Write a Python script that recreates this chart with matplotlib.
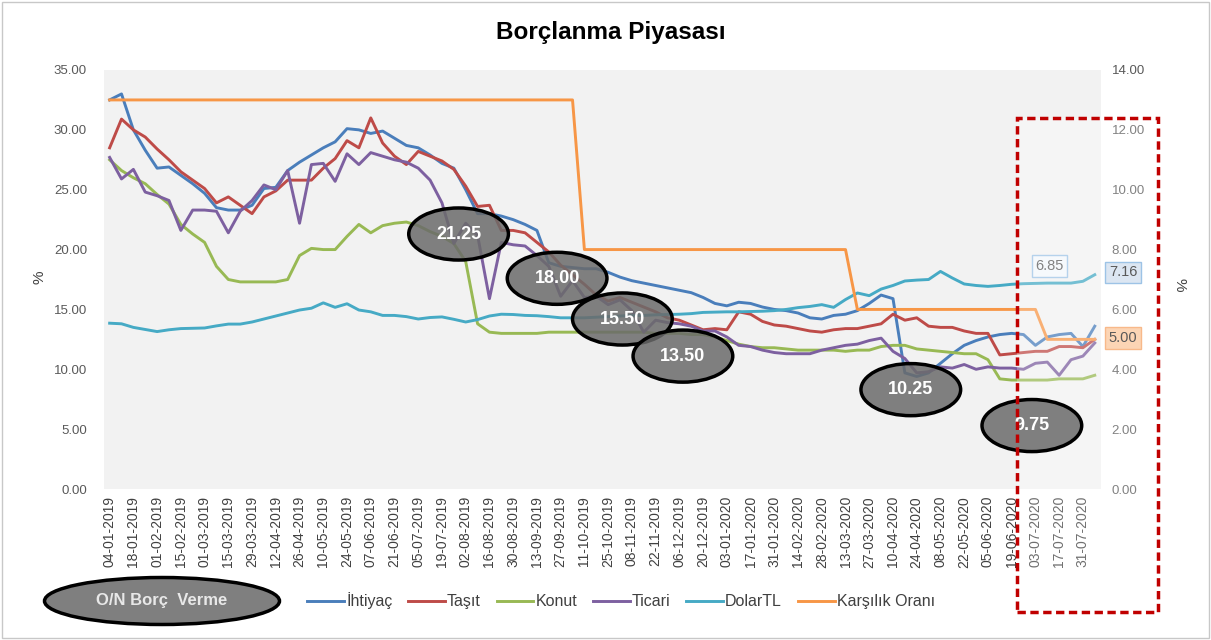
import matplotlib.pyplot as plt
from matplotlib.patches import Ellipse, Rectangle

plt.rcParams['font.family'] = ['Liberation Sans', 'DejaVu Sans']

# x ekseni etiketleri (iki haftada bir)
tick_labels = ['04-01-2019', '18-01-2019', '01-02-2019', '15-02-2019', '01-03-2019', '15-03-2019',
               '29-03-2019', '12-04-2019', '26-04-2019', '10-05-2019', '24-05-2019', '07-06-2019',
               '21-06-2019', '05-07-2019', '19-07-2019', '02-08-2019', '16-08-2019', '30-08-2019',
               '13-09-2019', '27-09-2019', '11-10-2019', '25-10-2019', '08-11-2019', '22-11-2019',
               '06-12-2019', '20-12-2019', '03-01-2020', '17-01-2020', '31-01-2020', '14-02-2020',
               '28-02-2020', '13-03-2020', '27-03-2020', '10-04-2020', '24-04-2020', '08-05-2020',
               '22-05-2020', '05-06-2020', '19-06-2020', '03-07-2020', '17-07-2020', '31-07-2020']

# haftalik seriler (sol eksen, %)
ihtiyac = [32.5, 33.0, 30.0, 28.3, 26.8, 26.9, 26.2, 25.5, 24.7, 23.5,
           23.3, 23.3, 23.7, 25.1, 25.2, 26.6, 27.3, 27.9, 28.5, 29.0,
           30.1, 30.0, 29.7, 29.9, 29.3, 28.7, 28.5, 27.9, 27.2, 26.8,
           25.0, 23.0, 23.0, 22.8, 22.5, 22.1, 21.6, 18.9, 18.6, 18.5,
           18.4, 18.4, 18.1, 17.7, 17.4, 17.2, 17.0, 16.8, 16.6, 16.4,
           16.0, 15.5, 15.3, 15.6, 15.5, 15.2, 15.0, 14.9, 14.7, 14.3,
           14.2, 14.5, 14.6, 14.9, 15.5, 16.2, 15.9, 9.7, 9.4, 9.7,
           10.5, 11.3, 12.0, 12.4, 12.7, 12.9, 13.0, 12.9, 12.0, 12.7,
           12.9, 13.0, 11.9, 13.6]
tasit = [28.5, 30.9, 30.0, 29.4, 28.4, 27.5, 26.5, 25.8, 25.1, 23.9,
         24.4, 23.7, 23.0, 24.4, 24.9, 25.8, 25.8, 25.8, 26.8, 27.6,
         29.1, 28.5, 31.0, 28.9, 27.8, 27.1, 28.2, 27.8, 27.4, 26.7,
         25.3, 23.6, 23.7, 21.6, 21.6, 21.4, 20.6, 19.8, 18.7, 17.9,
         17.1, 16.2, 15.7, 16.0, 15.6, 15.2, 14.8, 14.3, 14.1, 13.7,
         13.3, 13.4, 13.3, 14.8, 14.6, 14.0, 13.7, 13.6, 13.4, 13.2,
         13.1, 13.3, 13.4, 13.4, 13.6, 13.8, 14.6, 14.1, 14.3, 13.6,
         13.5, 13.5, 13.2, 13.0, 13.0, 11.2, 11.3, 11.4, 11.5, 11.5,
         11.9, 11.9, 11.8, 12.5]
konut = [27.5, 26.6, 26.0, 25.5, 24.6, 23.8, 22.1, 21.3, 20.6, 18.6,
         17.5, 17.3, 17.3, 17.3, 17.3, 17.5, 19.5, 20.1, 20.0, 20.0,
         21.1, 22.1, 21.4, 22.0, 22.2, 22.3, 22.0, 21.5, 21.1, 20.5,
         19.0, 13.8, 13.1, 13.0, 13.0, 13.0, 13.0, 13.1, 13.1, 13.1,
         13.1, 13.1, 13.1, 13.1, 13.1, 13.1, 13.0, 13.0, 13.0, 12.9,
         12.9, 12.7, 12.4, 12.1, 11.9, 11.8, 11.8, 11.7, 11.6, 11.6,
         11.6, 11.6, 11.5, 11.6, 11.6, 11.9, 12.0, 12.0, 11.7, 11.6,
         11.5, 11.4, 11.3, 11.3, 10.8, 9.2, 9.1, 9.1, 9.1, 9.1,
         9.2, 9.2, 9.2, 9.5]
ticari = [27.7, 25.9, 26.7, 24.8, 24.5, 24.1, 21.6, 23.3, 23.3, 23.2,
          21.4, 23.2, 24.1, 25.4, 25.0, 26.6, 22.2, 27.1, 27.2, 25.7,
          28.0, 27.1, 28.1, 27.8, 27.5, 27.3, 26.8, 25.8, 23.9, 20.5,
          22.2, 21.2, 15.9, 20.6, 20.4, 20.3, 19.5, 18.6, 16.1, 17.4,
          16.0, 16.1, 15.4, 15.8, 14.9, 13.1, 14.1, 13.9, 13.8, 13.6,
          13.2, 13.2, 12.7, 12.0, 11.9, 11.6, 11.4, 11.3, 11.3, 11.3,
          11.6, 11.8, 12.0, 12.1, 12.4, 12.6, 11.5, 10.9, 9.7, 9.8,
          10.2, 10.1, 10.4, 10.0, 10.2, 10.1, 10.1, 10.0, 10.5, 10.6,
          9.5, 10.8, 11.1, 12.2]

# sag eksen serileri
dolar_tl = [5.54, 5.52, 5.40, 5.33, 5.26, 5.32, 5.36, 5.37, 5.38, 5.45,
            5.51, 5.51, 5.58, 5.68, 5.78, 5.88, 5.98, 6.04, 6.22, 6.07,
            6.19, 5.98, 5.92, 5.80, 5.80, 5.76, 5.68, 5.73, 5.75, 5.67,
            5.58, 5.66, 5.78, 5.84, 5.83, 5.80, 5.79, 5.76, 5.72, 5.72,
            5.72, 5.74, 5.76, 5.78, 5.80, 5.80, 5.82, 5.83, 5.84, 5.86,
            5.90, 5.91, 5.92, 5.92, 5.93, 5.94, 5.96, 6.00, 6.06, 6.10,
            6.16, 6.07, 6.33, 6.55, 6.46, 6.68, 6.80, 6.95, 6.98, 7.00,
            7.27, 7.05, 6.85, 6.80, 6.77, 6.80, 6.84, 6.86, 6.87, 6.88,
            6.88, 6.88, 6.94, 7.16]
karsilik = [13, 13, 13, 13, 13, 13, 13, 13, 13, 13,
            13, 13, 13, 13, 13, 13, 13, 13, 13, 13,
            13, 13, 13, 13, 13, 13, 13, 13, 13, 13,
            13, 13, 13, 13, 13, 13, 13, 13, 13, 13,
            8, 8, 8, 8, 8, 8, 8, 8, 8, 8,
            8, 8, 8, 8, 8, 8, 8, 8, 8, 8,
            8, 8, 8, 6, 6, 6, 6, 6, 6, 6,
            6, 6, 6, 6, 6, 6, 6, 6, 6, 5,
            5, 5, 5, 5]

# O/N borc verme oranlari ve balonlarin yerleri (hafta, sol eksen degeri)
on_rates = ['21.25', '18.00', '15.50', '13.50', '10.25', '9.75']
on_week = [29.4, 37.7, 43.2, 48.3, 67.5, 77.7]
on_level = [21.3, 17.6, 14.2, 11.1, 8.3, 5.3]

weeks = list(range(len(ihtiyac)))

W, H = 1211, 640
fig = plt.figure(figsize=(W / 100, H / 100), dpi=100)
ax = fig.add_axes([103.7 / W, 1 - 489 / H, (1100.7 - 103.7) / W, (489 - 70) / H])
ax.set_facecolor('#f2f2f2')
ax2 = ax.twinx()

lw = 2.1
l1, = ax.plot(weeks, ihtiyac, color='#4a7ebb', lw=lw)
l2, = ax.plot(weeks, tasit, color='#be4b48', lw=lw)
l3, = ax.plot(weeks, konut, color='#98b954', lw=lw)
l4, = ax.plot(weeks, ticari, color='#7d60a0', lw=lw)
l5, = ax2.plot(weeks, dolar_tl, color='#46aac5', lw=lw)
l6, = ax2.plot(weeks, karsilik, color='#f79646', lw=lw)

ax.set_xlim(-0.5, len(weeks) - 0.5)
ax.set_ylim(0, 35)
ax2.set_ylim(0, 14)
ax.set_yticks(range(0, 36, 5))
ax.set_yticklabels(['%.2f' % v for v in range(0, 36, 5)])
ax2.set_yticks(range(0, 15, 2))
ax2.set_yticklabels(['%.2f' % v for v in range(0, 15, 2)])
ax.set_xticks(range(0, 2 * len(tick_labels), 2))
ax.set_xticklabels(tick_labels, rotation=90)

for a in (ax, ax2):
    for s in a.spines.values():
        s.set_visible(False)
ax.tick_params(axis='y', length=0, pad=12, labelsize=9.5, labelcolor='#595959')
ax.tick_params(axis='x', length=0, pad=5, labelsize=10, labelcolor='#404040')
ax2.tick_params(axis='y', length=0, pad=8, labelsize=9.5, labelcolor='#595959')

# baslik ve eksen adlari
fig.text(611 / W, 1 - 33 / H, 'Borçlanma Piyasası', ha='center', va='center',
         fontsize=17.5, fontweight='bold', color='black')
fig.text(40 / W, 1 - 277 / H, '%', rotation=90, ha='center', va='center', fontsize=11, color='#404040')
fig.text(1180 / W, 1 - 285 / H, '%', rotation=270, ha='center', va='center', fontsize=11, color='#404040')

# O/N balonlari
for r, wk, lv in zip(on_rates, on_week, on_level):
    e = Ellipse((wk, lv), 8.4, 4.35, transform=ax.transData, fc=(0.42, 0.42, 0.42, 0.85),
                ec='black', lw=2.5, zorder=1.5)
    fig.add_artist(e)
    fig.text(wk, lv, r, transform=ax.transData, ha='center', va='center', color='white',
             fontsize=13, fontweight='bold', zorder=3)

# son degerler
ax2.text(79.2, 7.45, '6.85', ha='center', va='center', fontsize=10.5, color='#595959',
         bbox=dict(boxstyle='square,pad=0.25', fc='#f4f7fb', ec='#9dc3e6', lw=1))
fig.text(weeks[-1] + 2.4, dolar_tl[-1] + 0.08, '%.2f' % dolar_tl[-1], transform=ax2.transData,
         ha='center', va='center', fontsize=10.5, color='#595959', zorder=3.5,
         bbox=dict(boxstyle='square,pad=0.25', fc='#dce6f2', ec='#9dc3e6', lw=1))
fig.text(weeks[-1] + 2.4, karsilik[-1] + 0.05, '%.2f' % karsilik[-1], transform=ax2.transData,
         ha='center', va='center', fontsize=10.5, color='#595959', zorder=3.5,
         bbox=dict(boxstyle='square,pad=0.25', fc='#fcd5b5', ec='#f8b98a', lw=1))

# vurgulanan bolge
fig.add_artist(Rectangle((1017 / W, 1 - 612 / H), 141 / W, 494 / H, transform=fig.transFigure,
                         fc='white', alpha=0.25, ec='none', zorder=1.2))
fig.add_artist(Rectangle((1017 / W, 1 - 612 / H), 141 / W, 494 / H, transform=fig.transFigure,
                         fill=False, ec='#c00000', lw=2.5, ls=(0, (2.4, 1.3)), zorder=4))

# lejant
fig.add_artist(Ellipse((162 / W, 1 - 601 / H), 235 / W, 47 / H, transform=fig.transFigure,
                       fc='#7f7f7f', ec='black', lw=2.5, zorder=2))
fig.text(162 / W, 1 - 601 / H, 'O/N Borç  Verme', ha='center', va='center', fontsize=12,
         fontweight='bold', color='#e8e8e8', zorder=3)
handles = [l1, l2, l3, l4, l5, l6]
names = ['İhtiyaç', 'Taşıt', 'Konut', 'Ticari', 'DolarTL', 'Karşılık Oranı']
fig.legend(handles, names, loc='center left', bbox_to_anchor=(293 / W, 1 - 601 / H), ncol=6,
           frameon=False, fontsize=11.5, handlelength=2.3, handletextpad=0.12,
           columnspacing=1.0, labelcolor='#404040')

# dis cerceve
fig.add_artist(Rectangle((2 / W, 2 / H), 1207 / W, 636 / H, transform=fig.transFigure,
                         fill=False, ec='#c8c8c8', lw=1, zorder=0))

fig.savefig('out.png', dpi=100)
